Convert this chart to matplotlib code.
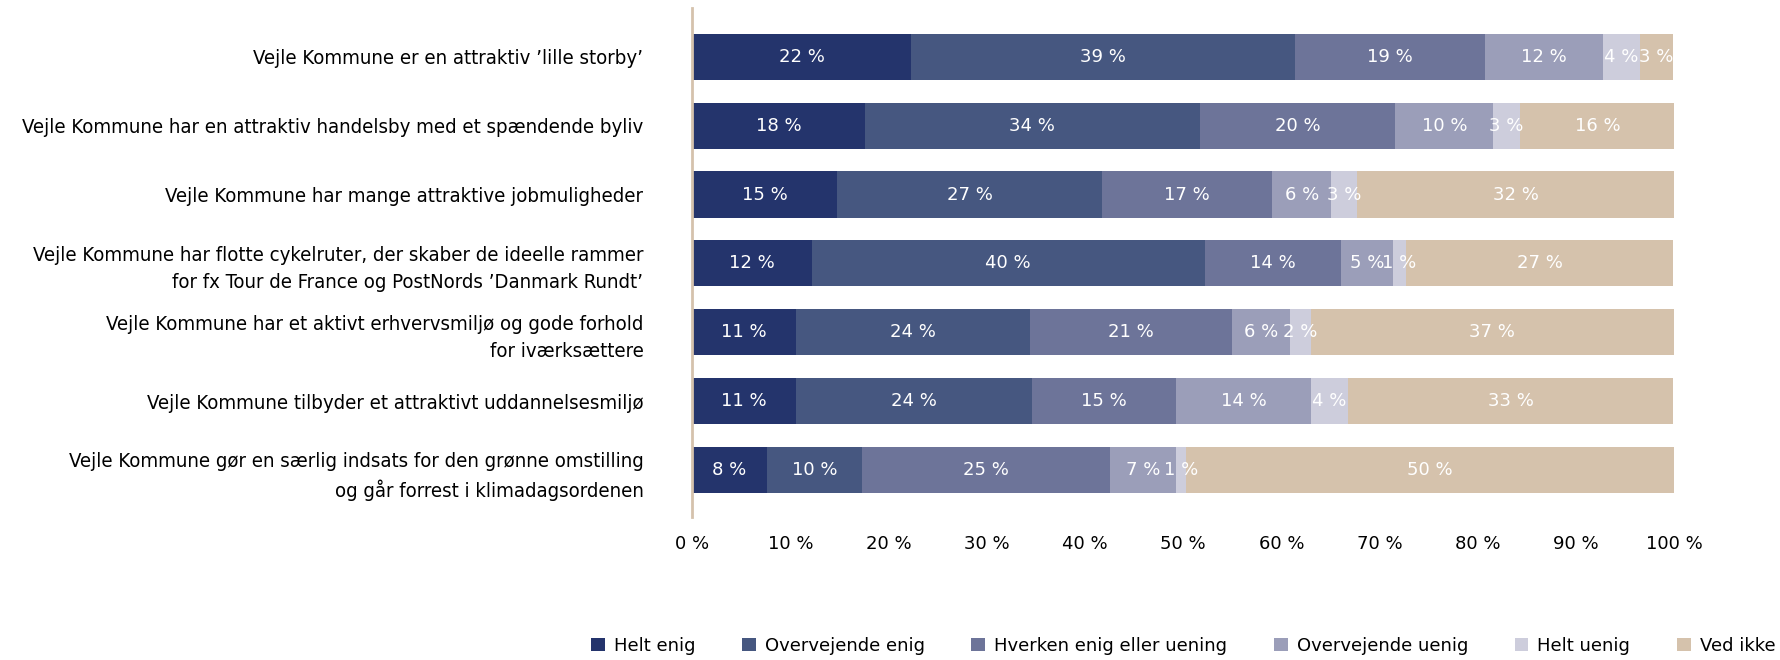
import numpy as np
import matplotlib
matplotlib.use("Agg")
import matplotlib.pyplot as plt

# --- data (percent) ---
statements = [
    "Vejle Kommune er en attraktiv \u2019lille storby\u2019",
    "Vejle Kommune har en attraktiv handelsby med et sp\u00e6ndende byliv",
    "Vejle Kommune har mange attraktive jobmuligheder",
    "Vejle Kommune har flotte cykelruter, der skaber de ideelle rammer\nfor fx Tour de France og PostNords \u2019Danmark Rundt\u2019",
    "Vejle Kommune har et aktivt erhvervsmilj\u00f8 og gode forhold\nfor iv\u00e6rks\u00e6ttere",
    "Vejle Kommune tilbyder et attraktivt uddannelsesmilj\u00f8",
    "Vejle Kommune g\u00f8r en s\u00e6rlig indsats for den gr\u00f8nne omstilling\nog g\u00e5r forrest i klimadagsordenen",
]
categories = ["Helt enig", "Overvejende enig", "Hverken enig eller uening",
              "Overvejende uenig", "Helt uenig", "Ved ikke"]

helt_enig         = [22.3, 17.6, 14.8, 12.2, 10.6, 10.6, 7.6]
overvejende_enig  = [39.1, 34.1, 26.9, 40.0, 23.8, 24.0, 9.7]
hverken           = [19.3, 19.9, 17.4, 13.9, 20.6, 14.7, 25.3]
overvejende_uenig = [12.1, 10.0, 6.0, 5.3, 5.9, 13.7, 6.7]
helt_uenig        = [3.7, 2.7, 2.6, 1.3, 2.1, 3.8, 1.0]
ved_ikke          = [3.4, 15.8, 32.3, 27.2, 37.0, 33.1, 49.7]

colors = ["#24346C", "#465780", "#6D7499", "#9B9EB9", "#CDCDDC", "#D5C2AC"]

series = [helt_enig, overvejende_enig, hverken, overvejende_uenig, helt_uenig, ved_ikke]

plt.rcParams["font.family"] = ["DejaVu Sans"]

fig = plt.figure(figsize=(17.8, 6.6), dpi=100)
ax = fig.add_axes([0.3888, 0.217, 0.5517, 0.771])

y = np.arange(len(statements))
left = np.zeros(len(statements))
for name, vals, c in zip(categories, series, colors):
    vals = np.array(vals)
    ax.barh(y, vals, left=left, height=0.67, color=c, label=name)
    for yi, l, v in zip(y, left, vals):
        ax.text(l + v / 2, yi, f"{round(v)} %", ha="center", va="center",
                color="white", fontsize=13)
    left += vals

ax.set_xlim(0, 100)
ax.set_ylim(6.68, -0.71)
ax.set_xticks(np.arange(0, 101, 10))
ax.set_xticklabels([f"{t} %" for t in range(0, 101, 10)], fontsize=13)
ax.set_yticks(y)
ax.set_yticklabels(statements, fontsize=14.6, fontstretch="condensed",
                   linespacing=1.5)
ax.tick_params(axis="x", length=0, pad=13)
ax.tick_params(axis="y", length=0, pad=35)
for s in ["top", "right", "bottom"]:
    ax.spines[s].set_visible(False)
ax.spines["left"].set_color("#D5C2AC")
ax.spines["left"].set_linewidth(2)

fig.legend(loc="lower left", bbox_to_anchor=(0.332, 0.008), ncol=6, frameon=False,
           fontsize=13, handlelength=0.75, handleheight=0.75, handletextpad=0.5,
           columnspacing=2.6, borderpad=0, borderaxespad=0)

fig.savefig("out.png", dpi=100)
